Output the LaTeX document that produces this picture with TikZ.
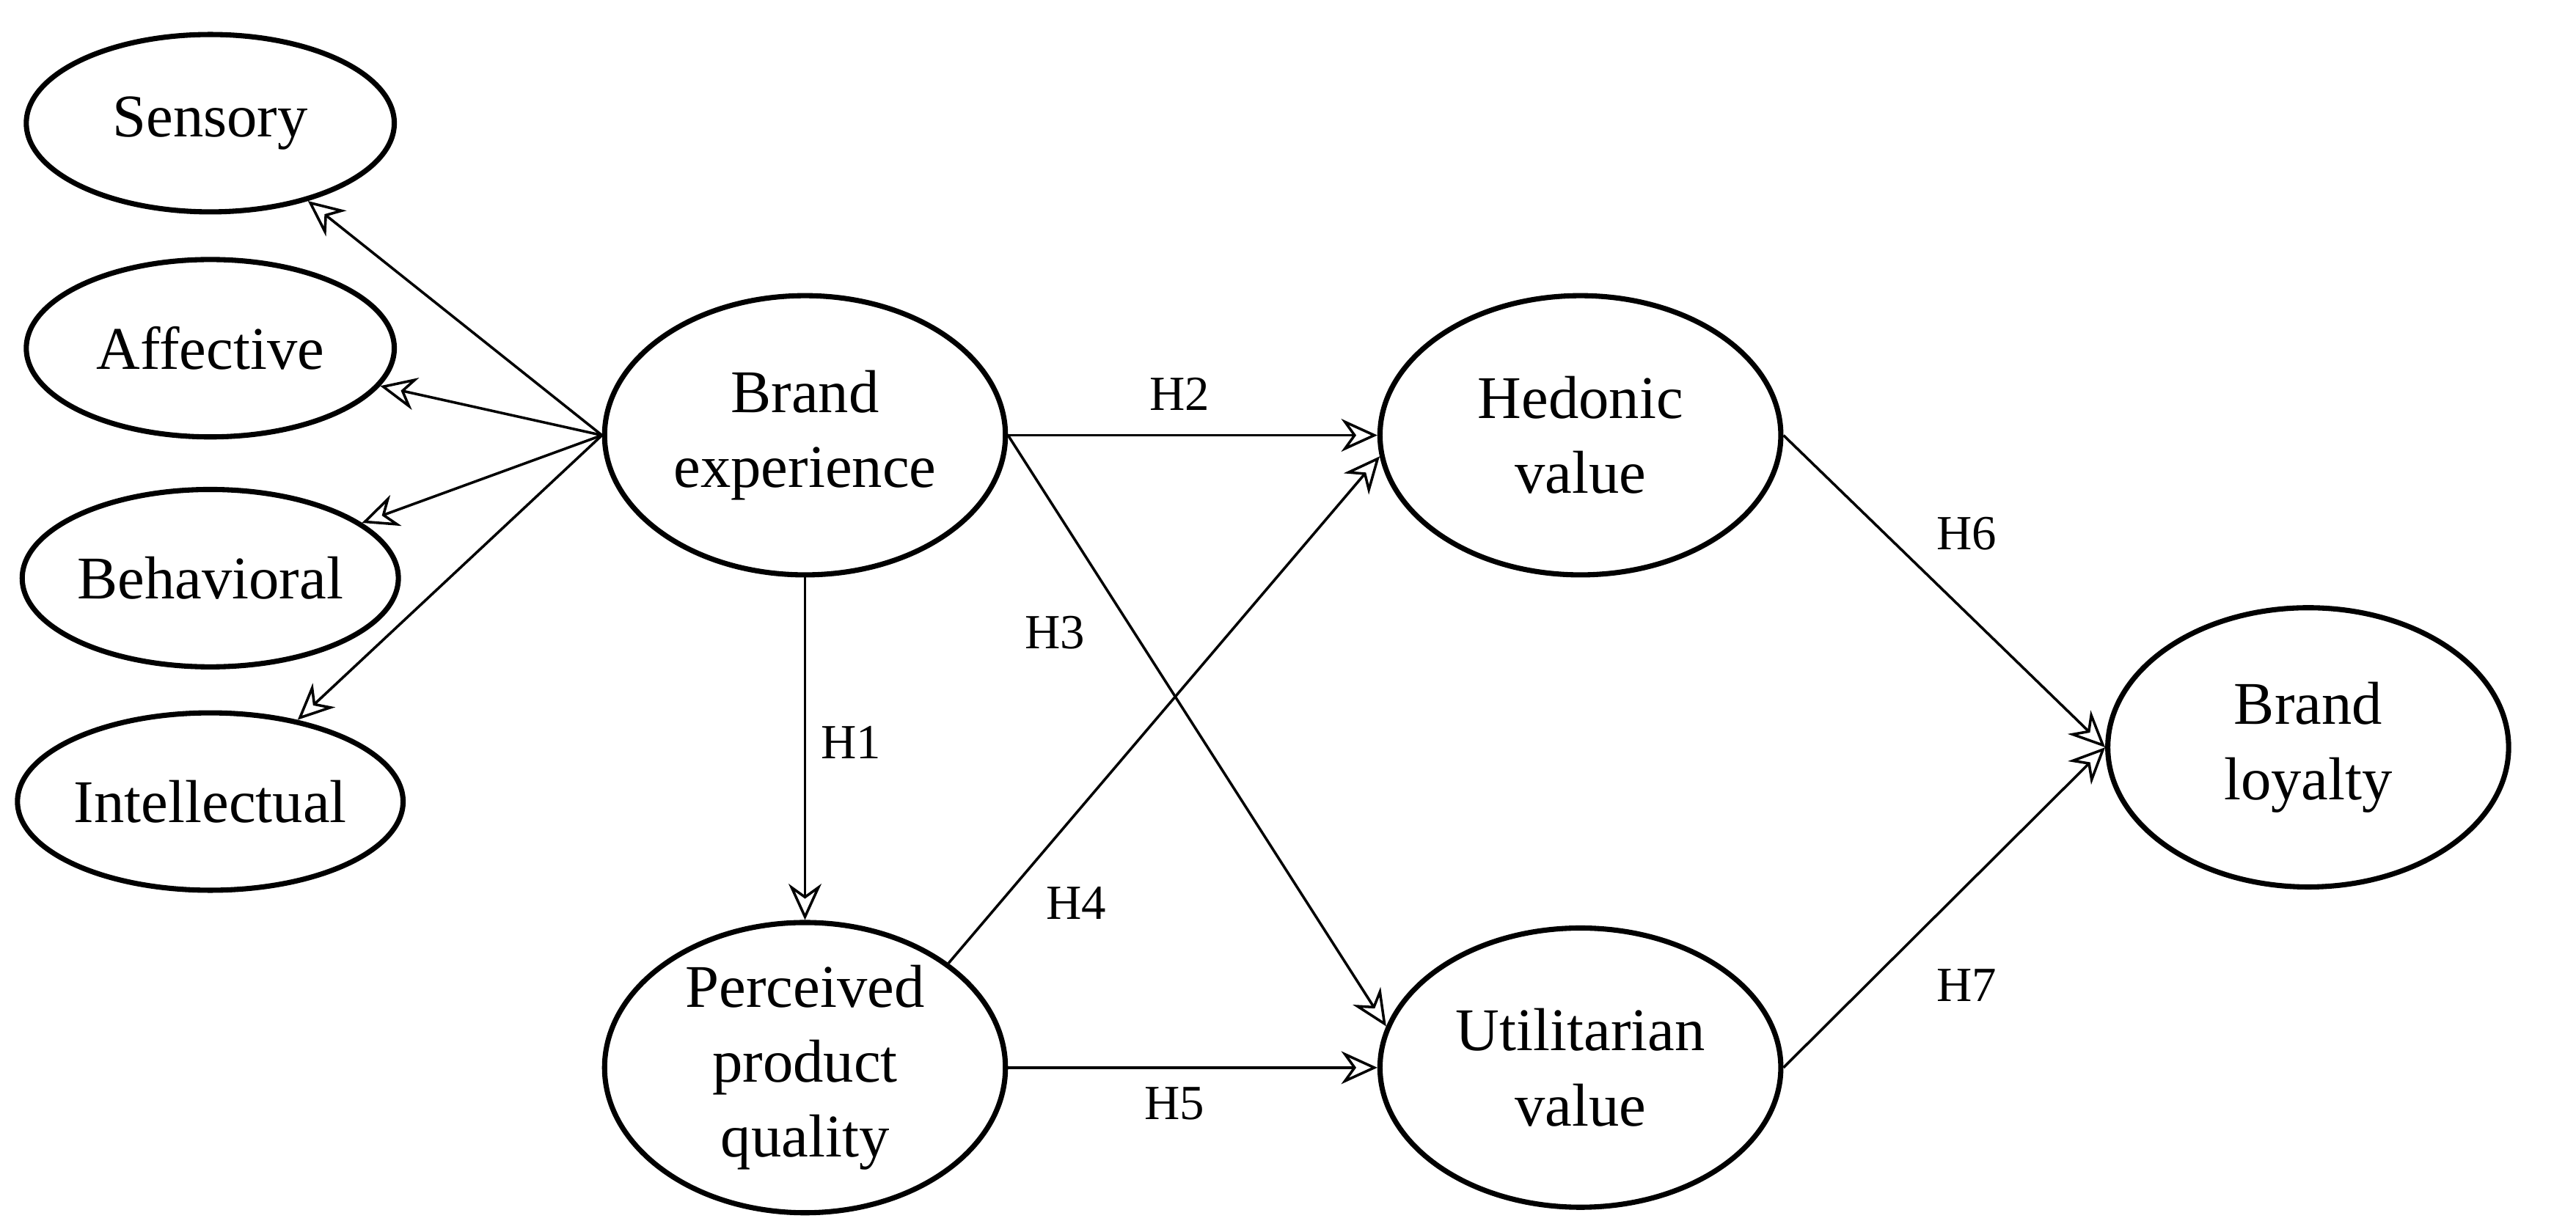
\documentclass[tikz,border=0pt]{standalone}
\usepackage{fontspec}
\setmainfont{Liberation Serif}
\usetikzlibrary{shapes.geometric,arrows.meta}
\begin{document}
\begin{tikzpicture}[x=0.1mm,y=-0.1mm,
  ell/.style={draw,ellipse,line width=0.9pt,inner sep=0pt,align=center,font=\fontsize{10.5}{13}\selectfont},
  small/.style={ell,minimum width=22.4mm,minimum height=10.8mm},
  big/.style={ell,minimum width=24.4mm,minimum height=17mm},
  arr/.style={-{Stealth[open,length=2.2mm,width=2mm]},line width=0.45pt},
  lab/.style={font=\fontsize{8.5}{10}\selectfont}]
\useasboundingbox (0,0) rectangle (1568,750);
\node[small] (sen) at (128,75) {Sensory};
\node[small] (aff) at (128,212) {Affective};
\node[small] (beh) at (128,352) {Behavioral};
\node[small] (int) at (128,488) {Intellectual};
\node[big] (be) at (490,265) {Brand\\experience};
\node[big] (pq) at (490,650) {Perceived\\product\\quality};
\node[big] (hv) at (962,265) {Hedonic\\value};
\node[big] (uv) at (962,650) {Utilitarian\\value};
\node[big] (bl) at (1405,455) {Brand\\loyalty};
\foreach \t in {sen,aff,beh,int} \draw[arr] (be.west) -- (\t);
\draw[arr] (be.east) -- (hv.west);
\draw[arr] (be.east) -- (uv.168);
\draw[arr] (be.south) -- (pq.north);
\draw[arr] (pq.north east) -- (hv.186);
\draw[arr] (pq.east) -- (uv.west);
\draw[arr] (hv.east) -- (bl.west);
\draw[arr] (uv.east) -- (bl.west);
\node[lab] (h1) at (518,452) {H1};
\node[lab] (h2) at (718,240) {H2};
\node[lab] (h3) at (642,385) {H3};
\node[lab] (h4) at (655,550) {H4};
\node[lab] (h5) at (715,672) {H5};
\node[lab] (h6) at (1197,325) {H6};
\node[lab] (h7) at (1197,600) {H7};
\end{tikzpicture}
\end{document}
